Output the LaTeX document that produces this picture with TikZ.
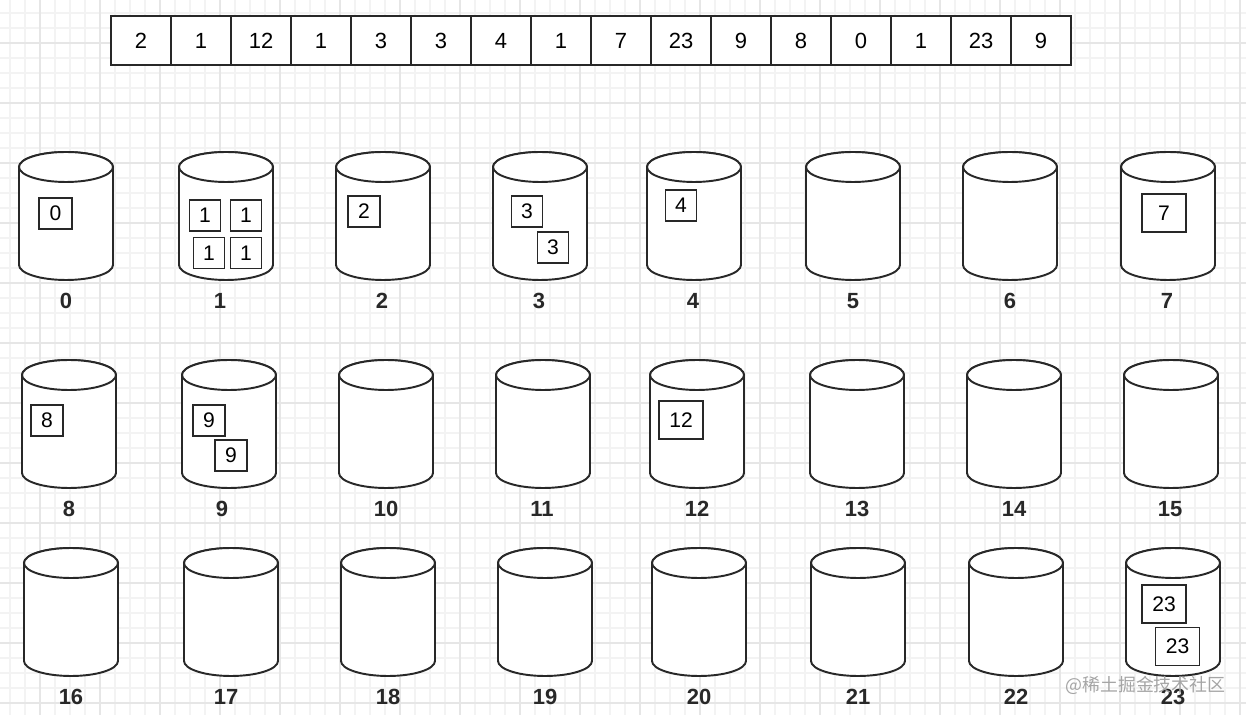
\documentclass[tikz,border=0pt]{standalone}
\usepackage{fontspec}
\setmainfont{Liberation Sans}
\newfontfamily\cjkfont{Noto Sans CJK SC}
\usepackage{xcolor}
\definecolor{gridminor}{RGB}{243,243,243}
\definecolor{gridmajor}{RGB}{230,230,230}
\definecolor{inkline}{RGB}{40,40,40}
\definecolor{markgray}{RGB}{165,165,165}

\begin{document}
\begin{tikzpicture}[x=0.02cm, y=-0.02cm,
  cell/.style={draw=inkline, fill=white, line width=1.1pt, minimum width=1.2cm, minimum height=0.98cm, inner sep=0pt, font=\fontsize{12.5}{14}\selectfont},
  bucketline/.style={draw=inkline, fill=white, line width=1.1pt},
  bucket/.style={inner sep=0pt, minimum width=1.88cm, minimum height=2.56cm},
  idx/.style={font=\fontsize{12.5}{14}\selectfont\bfseries, text=inkline},
  item/.style={draw=inkline, fill=white, line width=1pt, minimum width=0.62cm, minimum height=0.62cm, inner sep=0pt, font=\fontsize{12}{14}\selectfont},
  bigitem/.style={item, minimum width=0.88cm, minimum height=0.76cm}]
  \useasboundingbox (0,0) rectangle (1246,715);
  \fill[white] (0,0) rectangle (1246,715);

  % grid paper
  \foreach \gx in {10,25,...,1246} \draw[gridminor, line width=0.6pt] (\gx,0) -- (\gx,715);
  \foreach \gy in {13,28,...,715} \draw[gridminor, line width=0.6pt] (0,\gy) -- (1246,\gy);
  \foreach \gx in {40,100,...,1246} \draw[gridmajor, line width=0.7pt] (\gx,0) -- (\gx,715);
  \foreach \gy in {43,103,...,715} \draw[gridmajor, line width=0.7pt] (0,\gy) -- (1246,\gy);

  % input array
  \foreach \v [count=\i from 0] in {2,1,12,1,3,3,4,1,7,23,9,8,0,1,23,9}
    \node[cell] (a\i) at ({141+60*\i},40.5) {\v};

  % buckets 0..23
  \foreach \n/\cx/\cy/\lx/\ly in {0/66/216/66/301, 1/226/216/220/301, 2/383/216/382/301, 3/540/216/539/301,
      4/694/216/693/301, 5/853/216/853/301, 6/1010/216/1010/301, 7/1168/216/1167/301,
      8/69/424/69/509, 9/229/424/222/509, 10/386/424/386/509, 11/543/424/542/509,
      12/697/424/697/509, 13/857/424/857/509, 14/1014/424/1014/509, 15/1171/424/1170/509,
      16/71/612/71/697, 17/231/612/226/697, 18/388/612/388/697, 19/545/612/545/697,
      20/699/612/699/697, 21/858/612/858/697, 22/1016/612/1016/697, 23/1173/612/1173/697} {
    \node[bucket] (c\n) at (\cx,\cy) {};
    \filldraw[bucketline] (\cx-47,\cy-49) -- (\cx-47,\cy+49)
      arc[start angle=180, end angle=360, x radius=0.94cm, y radius=0.3cm] -- (\cx+47,\cy-49)
      arc[start angle=0, end angle=180, x radius=0.94cm, y radius=0.3cm] -- cycle;
    \draw[bucketline] (\cx,\cy-49) ellipse[x radius=0.94cm, y radius=0.3cm];
    \node[idx] (l\n) at (\lx,\ly) {\n};
  }

  % elements dropped into buckets
  \node[item, minimum width=0.66cm] (e0) at (55.5,213.5) {0};
  \node[item] (e1a) at (205,215.5) {1};
  \node[item] (e1b) at (246,215.5) {1};
  \node[item] (e1c) at (209,253) {1};
  \node[item] (e1d) at (246,253) {1};
  \node[item, minimum width=0.64cm] (e2) at (364,211.5) {2};
  \node[item] (e3a) at (527,211.5) {3};
  \node[item] (e3b) at (553,247.5) {3};
  \node[item] (e4) at (681,205.5) {4};
  \node[bigitem] (e7) at (1164,213) {7};
  \node[item, minimum width=0.64cm] (e8) at (47,420.5) {8};
  \node[item, minimum width=0.64cm] (e9a) at (209,420.5) {9};
  \node[item, minimum width=0.64cm] (e9b) at (231,455.5) {9};
  \node[bigitem] (e12) at (681,420) {12};
  \node[bigitem] (e23a) at (1164,604) {23};
  \node[bigitem] (e23b) at (1177.5,646.5) {23};

  \node[font=\cjkfont\fontsize{10.2}{12}\selectfont, text=markgray] (mark) at (1145.5,685) {@稀土掘金技术社区};
\end{tikzpicture}
\end{document}
